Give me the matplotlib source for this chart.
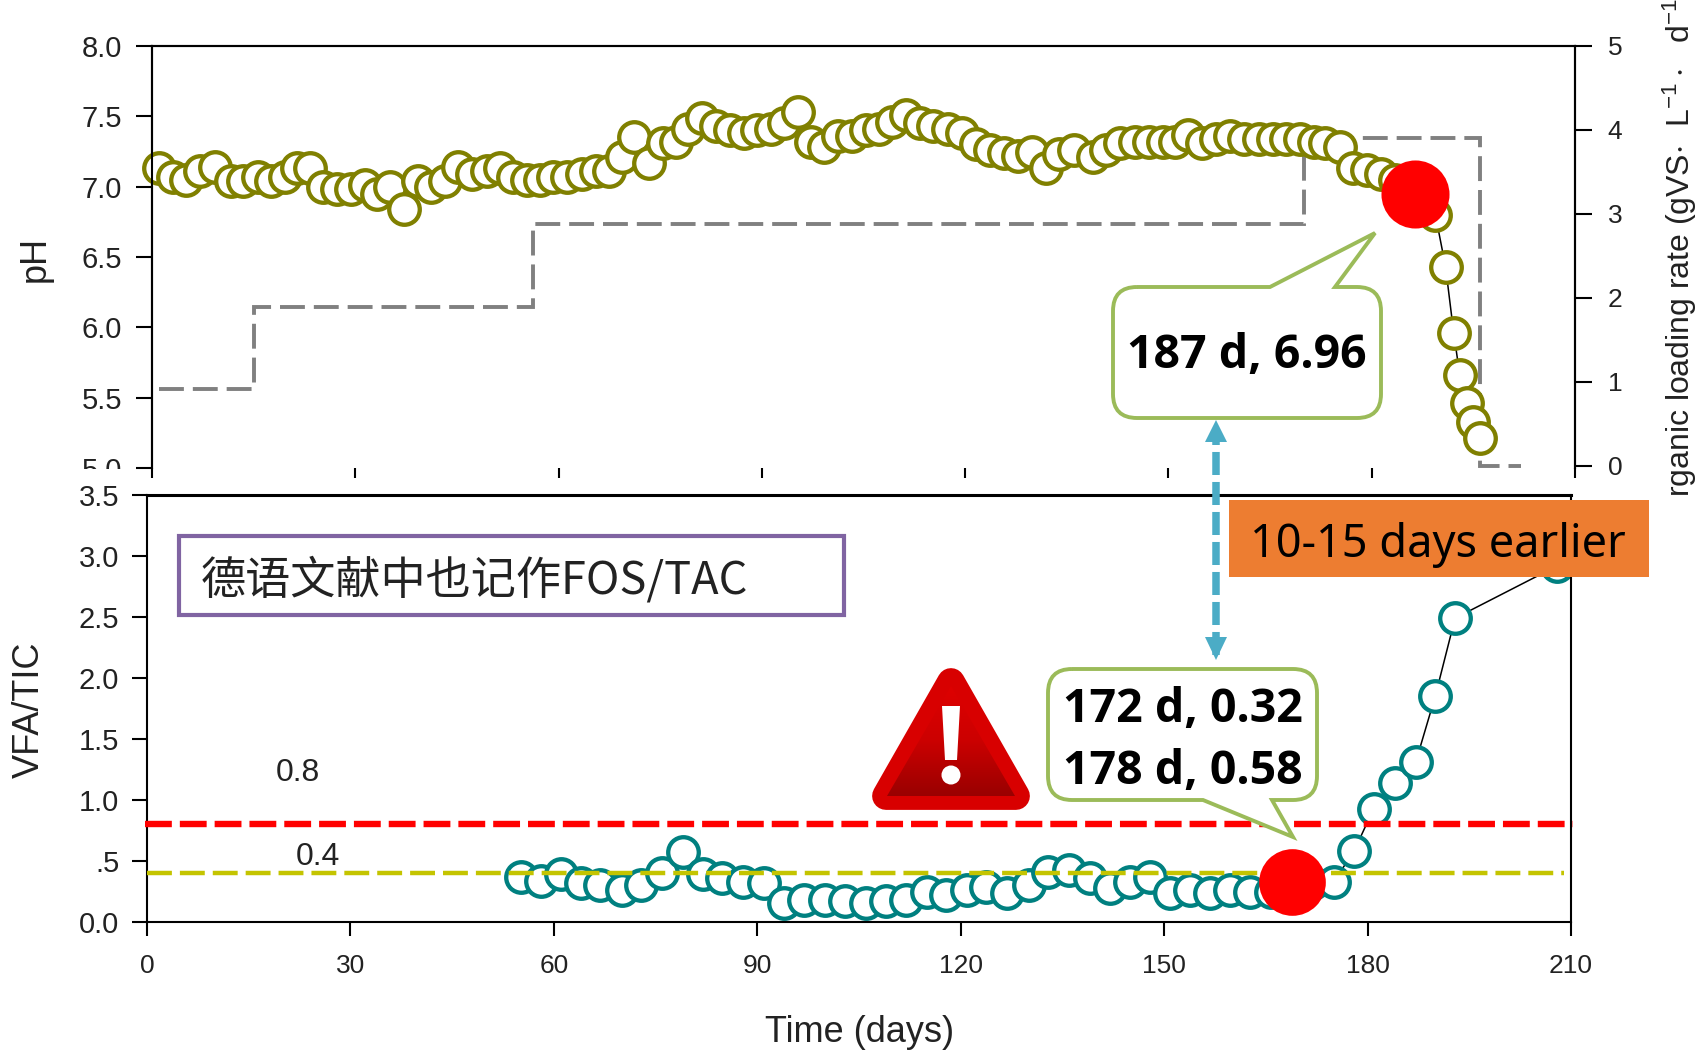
import numpy as np
import matplotlib
matplotlib.use('Agg')
import matplotlib.pyplot as plt
from matplotlib.path import Path
from matplotlib.patches import PathPatch, Polygon, Rectangle, Circle

plt.rcParams['font.family'] = ['Liberation Sans', 'DejaVu Sans']
plt.rcParams['mathtext.default'] = 'regular'

# Colors
OLIVE = '#808000'
TEAL = '#008080'
GREY = '#808080'
RED = '#FF0000'
YELLOW = '#C4C400'
GREEN_EDGE = '#9BBB59'
PURPLE = '#8064A2'
ORANGE = '#ED7D31'
BLUE = '#4BACC6'
TEXT = '#222222'

W, H = 1705, 1050

# pH series
ph_days = [1.1, 3.1, 5.0, 7.1, 9.3, 11.6, 13.5, 15.6, 17.5, 19.6, 21.4, 23.3, 25.2, 27.3, 29.4, 31.5,
           33.2, 35.1, 37.2, 39.2, 41.2, 43.2, 45.1, 47.2, 49.4, 51.3, 53.3, 55.3, 57.3, 59.2, 61.3, 63.4,
           65.5, 67.4, 69.3, 71.2, 73.3, 75.4, 77.3, 79.1, 81.2, 83.3, 85.3, 87.4, 89.3, 91.3, 93.2, 95.3,
           97.2, 99.1, 101.2, 103.3, 105.4, 107.3, 109.2, 111.2, 113.3, 115.3, 117.4, 119.5, 121.6, 123.7,
           125.8, 127.8, 129.9, 131.9, 133.9, 136.0, 138.9, 140.8, 142.9, 145.0, 147.1, 149.2, 151.0, 152.9,
           155.0, 157.0, 159.1, 161.2, 163.3, 165.4, 167.3, 169.4, 171.5, 173.1, 175.3, 177.2, 179.3, 181.4,
           183.5, 186.4, 189.4, 190.9, 192.1, 193.0, 194.0, 195.0, 196.0]
ph_vals = [7.13, 7.07, 7.05, 7.11, 7.14, 7.04, 7.04, 7.07, 7.04, 7.07, 7.13, 7.13, 7.00, 6.98, 6.98, 7.01,
           6.95, 7.00, 6.84, 7.04, 7.00, 7.04, 7.14, 7.09, 7.11, 7.13, 7.07, 7.05, 7.05, 7.07, 7.07, 7.09,
           7.11, 7.11, 7.21, 7.35, 7.17, 7.31, 7.32, 7.41, 7.49, 7.43, 7.40, 7.38, 7.40, 7.41, 7.45, 7.53,
           7.32, 7.28, 7.36, 7.36, 7.40, 7.41, 7.46, 7.51, 7.45, 7.43, 7.41, 7.38, 7.30, 7.26,
           7.24, 7.22, 7.25, 7.13, 7.23, 7.26, 7.21, 7.26, 7.31, 7.32, 7.32, 7.32, 7.32, 7.37,
           7.31, 7.34, 7.36, 7.34, 7.34, 7.34, 7.34, 7.34, 7.32, 7.31, 7.28, 7.13, 7.12, 7.09,
           7.05, 6.95, 6.80, 6.43, 5.96, 5.66, 5.46, 5.33, 5.21]
ph_mark_day = [186.4]
ph_mark_val = [6.95]

# Organic loading rate steps
olr_days = [1, 15, 15, 56.3, 56.3, 170, 170, 196, 196, 202]
olr_vals = [0.92, 0.92, 1.89, 1.89, 2.88, 2.88, 3.9, 3.9, 0, 0]

# VFA/TIC series
vfa_days = [55.1, 58.1, 61.0, 64.0, 66.8, 70.0, 72.9, 76.0, 79.0, 82.0, 84.8, 87.9, 91.0, 94.0, 96.9, 100.0,
            103.0, 106.0, 109.0, 111.9, 115.0, 117.9, 121.0, 123.8, 126.8, 130.0, 132.9, 135.9, 139.0, 142.0,
            145.0, 147.9, 150.9, 153.8, 156.8, 159.7, 162.7, 165.7, 168.7, 172.0, 175.0, 178.0, 180.9, 184.0,
            187.1, 190.0, 192.9, 208.0]
vfa_vals = [0.37, 0.34, 0.39, 0.32, 0.30, 0.26, 0.30, 0.40, 0.57, 0.39, 0.36, 0.33, 0.32, 0.155, 0.18, 0.18,
            0.17, 0.155, 0.17, 0.18, 0.25, 0.22, 0.26, 0.29, 0.235, 0.30, 0.41, 0.43, 0.36, 0.28,
            0.33, 0.37, 0.235, 0.26, 0.235, 0.26, 0.25, 0.25, 0.30, 0.32, 0.33, 0.58, 0.93, 1.14,
            1.31, 1.855, 2.49, 2.92]
vfa_mark_day = [168.8]
vfa_mark_val = [0.33]

high_limit = [0.8, 0.8]
high_days = [-0.3, 210.3]
low_limit = [0.4, 0.4]
low_days = [0, 209]

ph_ticks = [5.0, 5.5, 6.0, 6.5, 7.0, 7.5, 8.0]
olr_ticks = [0, 1, 2, 3, 4, 5]
vfa_ticks = [0, 0.5, 1.0, 1.5, 2.0, 2.5, 3.0, 3.5]
vfa_ticklabels = ['0.0', '.5', '1.0', '1.5', '2.0', '2.5', '3.0', '3.5']
day_ticks = [0, 30, 60, 90, 120, 150, 180, 210]


def px_axes(fig, left, top, right, bottom):
    return fig.add_axes([left / W, 1 - bottom / H, (right - left) / W, (bottom - top) / H])


def callout(ax, x0, y0, x1, y1, base_a, base_b, tip, on_top, r=24):
    # rounded box with a speech pointer on its top or bottom edge
    verts = [(x0 + r, y0)]
    codes = [Path.MOVETO]
    if on_top:
        verts += [(base_a, y0), tip, (base_b, y0)]
        codes += [Path.LINETO] * 3
    verts += [(x1 - r, y0), (x1, y0), (x1, y0 + r), (x1, y1 - r), (x1, y1), (x1 - r, y1)]
    codes += [Path.LINETO, Path.CURVE3, Path.CURVE3, Path.LINETO, Path.CURVE3, Path.CURVE3]
    if not on_top:
        verts += [(base_b, y1), tip, (base_a, y1)]
        codes += [Path.LINETO] * 3
    verts += [(x0 + r, y1), (x0, y1), (x0, y1 - r), (x0, y0 + r), (x0, y0), (x0 + r, y0)]
    codes += [Path.LINETO, Path.CURVE3, Path.CURVE3, Path.LINETO, Path.CURVE3, Path.CURVE3]
    ax.add_patch(PathPatch(Path(verts, codes), facecolor='white', edgecolor=GREEN_EDGE, lw=2.8, joinstyle='miter'))


fig = plt.figure(figsize=(W / 100, H / 100), dpi=100, facecolor='white')

# Top panel: pH and loading rate
ax_ph = px_axes(fig, 152, 46, 1575, 468)
ax_olr = ax_ph.twinx()
ax_ph.set_zorder(ax_olr.get_zorder() + 1)
ax_ph.patch.set_visible(False)

ax_olr.plot(olr_days, olr_vals, color=GREY, lw=2.8, dashes=(6.4, 2.3), dash_joinstyle='miter')
ax_ph.plot(ph_days, ph_vals, color='black', lw=1.1, marker='o', ms=22, mfc='white', mec=OLIVE, mew=3.1, clip_on=False)
ax_ph.plot(ph_mark_day, ph_mark_val, 'o', color=RED, ms=49, mew=0, zorder=5)

ax_ph.set_xlim(0, 210)
ax_ph.set_ylim(5.0, 8.0)
ax_olr.set_ylim(-0.024, 5)
ax_ph.set_xticks(day_ticks)
ax_ph.set_xticklabels([])
ax_ph.set_yticks(ph_ticks)
ax_ph.set_yticklabels([f'{v:.1f}' for v in ph_ticks])
ax_olr.set_yticks(olr_ticks)
ax_ph.tick_params(axis='x', length=7, width=1.5, direction='out', pad=0)
ax_ph.tick_params(axis='y', length=11.5, width=1.5, labelsize=21, pad=10, labelcolor=TEXT)
ax_olr.tick_params(axis='y', length=12.5, width=1.5, labelsize=19, pad=11, labelcolor=TEXT)
for a in (ax_ph, ax_olr):
    a.spines['bottom'].set_visible(False)
    for s in ('top', 'left', 'right'):
        a.spines[s].set_linewidth(1.5)

# Bottom panel: VFA/TIC
ax_vfa = px_axes(fig, 147, 495, 1571, 922)
ax_vfa.plot(vfa_days, vfa_vals, color='black', lw=1.1, marker='o', ms=22, mfc='white', mec=TEAL, mew=3.1, clip_on=False)
ax_vfa.plot(vfa_mark_day, vfa_mark_val, 'o', color=RED, ms=48, mew=0, zorder=5, clip_on=False)
ax_vfa.plot(high_days, high_limit, color=RED, lw=4.6, dashes=(4.2, 1.25), zorder=4, clip_on=False)
ax_vfa.plot(low_days, low_limit, color=YELLOW, lw=3.2, dashes=(5.6, 1.8), zorder=4)
ax_vfa.set_xlim(0, 210)
ax_vfa.set_ylim(0, 3.5)
ax_vfa.set_xticks(day_ticks)
ax_vfa.set_yticks(vfa_ticks)
ax_vfa.set_yticklabels(vfa_ticklabels)
ax_vfa.tick_params(axis='x', length=10, width=1.5, labelsize=19, pad=13, labelcolor=TEXT)
ax_vfa.tick_params(axis='y', length=11, width=1.5, labelsize=21, pad=9, labelcolor=TEXT)
for s in ax_vfa.spines.values():
    s.set_linewidth(1.5)
ax_vfa.spines['top'].set_linewidth(2.2)

# Overlay in pixel coordinates for the pasted annotations
ov = fig.add_axes([0, 0, 1, 1], zorder=20)
ov.set_xlim(0, W)
ov.set_ylim(H, 0)
ov.axis('off')

# 5.0 label is cut in half in the original
ov.add_patch(Rectangle((70, 469), 60, 14, facecolor='white', edgecolor='none'))

ov.text(35, 259, 'pH', rotation=90, fontsize=26, ha='center', va='center', color=TEXT)
ov.text(29, 710, 'VFA/TIC', rotation=90, fontsize=26, ha='center', va='center', color=TEXT)
ov.text(860, 1032, 'Time (days)', fontsize=26, ha='center', va='center', color=TEXT)
ov.text(1680, 497, r'rganic loading rate (gVS$\cdot$  L$^{-1}\cdot$  d$^{-1}$', rotation=90, fontsize=23,
        ha='center', va='bottom', color=TEXT)
ov.text(298, 773, '0.8', fontsize=23, ha='center', va='center', color=TEXT)
ov.text(318, 857, '0.4', fontsize=23, ha='center', va='center', color=TEXT)

# Purple note
ov.add_patch(Rectangle((179, 536), 665, 79, facecolor='white', edgecolor=PURPLE, lw=3))
ov.text(201, 580, '德语文献中也记作FOS/TAC', fontsize=32.5, ha='left', va='center', color=TEXT,
        family=['Noto Sans CJK SC', 'DejaVu Sans'])

# Blue arrow between the callouts
ov.plot([1216, 1216], [655, 442], color=BLUE, lw=5.4, dashes=(3.07, 0.93))
ov.add_patch(Polygon([(1216, 420), (1205, 442), (1227, 442)], facecolor=BLUE, edgecolor='none'))
ov.add_patch(Polygon([(1216, 660), (1205, 637), (1227, 637)], facecolor=BLUE, edgecolor='none'))

# Callouts
BOLD = dict(fontsize=33.5, fontweight='bold', family='Open Sans', ha='center', va='center', color='black')
callout(ov, 1113, 287, 1381, 418, 1270, 1335, (1375, 233), True)
ov.text(1247, 356, '187 d, 6.96', **BOLD)
callout(ov, 1048, 669, 1317, 800, 1203, 1272, (1293, 837), False)
ov.text(1183, 710, '172 d, 0.32', **BOLD)
ov.text(1183, 772, '178 d, 0.58', **BOLD)

# Orange banner
ov.add_patch(Rectangle((1229, 500), 420, 77, facecolor=ORANGE, edgecolor='none'))
ov.text(1438, 545, '10-15 days earlier', fontsize=32.5, family='Noto Sans', ha='center', va='center', color='black')

# Warning sign
tri = [(951, 682), (886, 796), (1016, 796)]
outer = Polygon(tri, closed=True, facecolor='#E00000', edgecolor='#D80000', lw=20, joinstyle='round')
ov.add_patch(outer)
inner = Polygon([(951, 686), (887, 796), (1015, 796)], closed=True, facecolor='none', edgecolor='none')
ov.add_patch(inner)
shade = np.linspace(0, 1, 64).reshape(-1, 1)
cmap = matplotlib.colors.LinearSegmentedColormap.from_list('warn', ['#E00000', '#CC0000', '#960000'])
im = ov.imshow(shade, extent=(880, 1022, 800, 680), aspect='auto', cmap=cmap, zorder=3)
im.set_clip_path(inner)
ov.set_xlim(0, W)
ov.set_ylim(H, 0)
ov.add_patch(Polygon([(942, 706), (960, 706), (957, 760), (945, 760)], facecolor='white', edgecolor='none', zorder=4))
ov.add_patch(Circle((951, 775), 9.5, facecolor='white', edgecolor='none', zorder=4))

plt.savefig('out.png', dpi=100, facecolor='white')
plt.close()
